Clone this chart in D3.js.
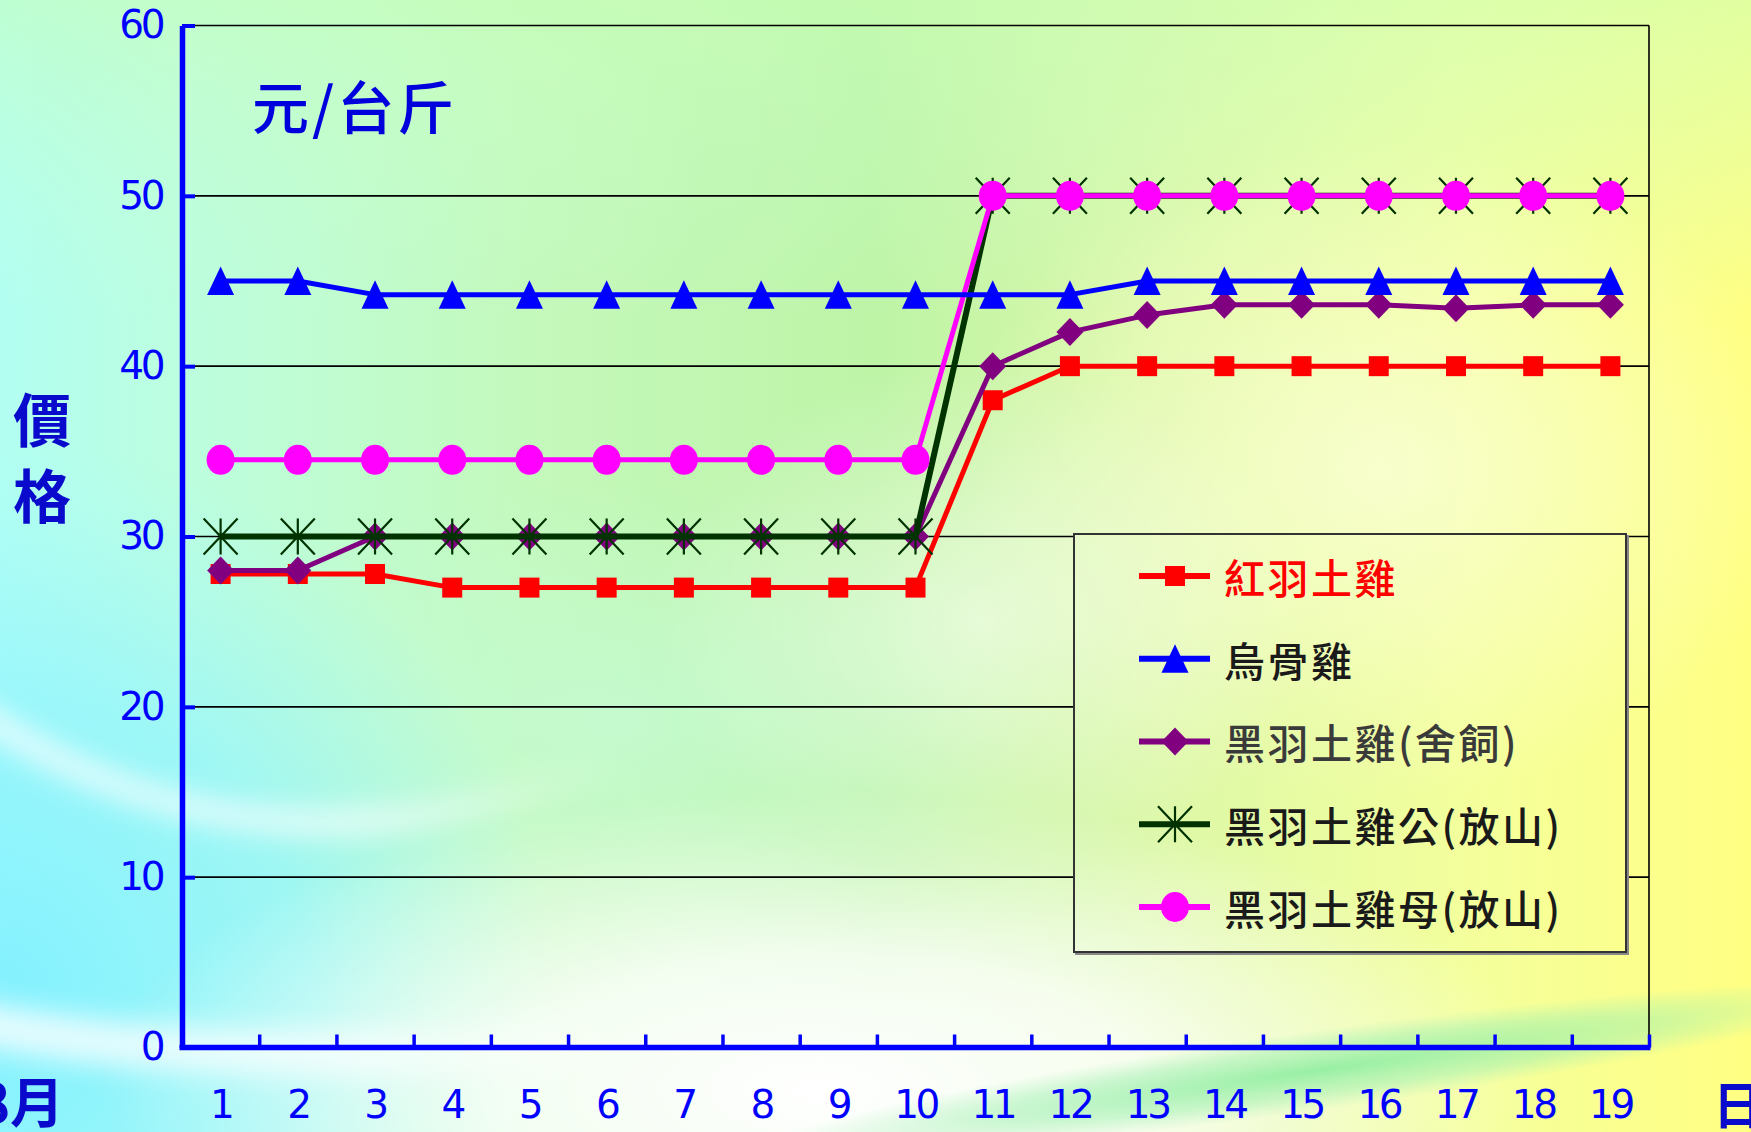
<!DOCTYPE html>
<html><head><meta charset="utf-8">
<script src="https://cdn.jsdelivr.net/npm/d3@7"></script>
<style>html,body{margin:0;padding:0;overflow:hidden;background:#fff}</style>
</head><body><svg id="c" width="1751" height="1132"></svg>
<script>
// ---------- data ----------
const days = [1,2,3,4,5,6,7,8,9,10,11,12,13,14,15,16,17,18,19];
const seriesNames = ["紅羽土雞","烏骨雞","黑羽土雞(舍飼)","黑羽土雞公(放山)","黑羽土雞母(放山)"];
const redVals     = [27.8,27.8,27.8,27,27,27,27,27,27,27,38,40,40,40,40,40,40,40,40];
const blueVals    = [45,45,44.2,44.2,44.2,44.2,44.2,44.2,44.2,44.2,44.2,44.2,45,45,45,45,45,45,45];
const purpleVals  = [28,28,30,30,30,30,30,30,30,30,40,42,43,43.6,43.6,43.6,43.4,43.6,43.6];
const greenVals   = [30,30,30,30,30,30,30,30,30,30,50,50,50,50,50,50,50,50,50];
const magentaVals = [34.5,34.5,34.5,34.5,34.5,34.5,34.5,34.5,34.5,34.5,50,50,50,50,50,50,50,50,50];
const yTicks = [0,10,20,30,40,50,60];
const unitLabel = "元/台斤";
const yTitle = ["價","格"];
const monthLabel = "8月";
const dayLabel = "日";

// ---------- layout ----------
const W = 1751, H = 1132;
const L = 182, R = 1649, T = 25.5, B = 1047.5;
const svg = d3.select("#c");
const defs = svg.append("defs");

// background gradients
const lg = defs.append("linearGradient").attr("id","bgH").attr("gradientUnits","userSpaceOnUse")
  .attr("x1",0).attr("y1",0).attr("x2",W).attr("y2",0);
[[0,"#b2fff2"],[0.1,"#bcfee0"],[0.3,"#c4f9bc"],[0.5,"#bdf4a6"],[0.66,"#dcf8a8"],[0.84,"#f4ff9c"],[1,"#ffff82"]]
  .forEach(([o,c])=>lg.append("stop").attr("offset",o).attr("stop-color",c));
const lv = defs.append("linearGradient").attr("id","bgV").attr("gradientUnits","userSpaceOnUse")
  .attr("x1",0).attr("y1",0).attr("x2",0).attr("y2",H);
[[0,"#c8ffb8",0.55],[0.28,"#c8ffd8",0],[1,"#ffffff",0]]
  .forEach(([o,c,a])=>lv.append("stop").attr("offset",o).attr("stop-color",c).attr("stop-opacity",a));
function radial(id, stops){
  const g = defs.append("radialGradient").attr("id",id);
  stops.forEach(([o,c,a])=>g.append("stop").attr("offset",o).attr("stop-color",c).attr("stop-opacity",a));
}
radial("cyanBL", [[0,"#80f0ff",0.95],[0.55,"#90f4ff",0.7],[1,"#a0f8ff",0]]);
radial("whiteGlow", [[0,"#ffffff",1],[0.45,"#ffffff",0.8],[1,"#ffffff",0]]);
radial("softGlow", [[0,"#ffffff",0.55],[1,"#ffffff",0]]);
radial("yelGlow", [[0,"#fbffd8",0.8],[1,"#fbffd8",0]]);
radial("greenStreak", [[0,"#8eeea0",0.9],[0.6,"#9ef0b0",0.5],[1,"#a8f0b8",0]]);
radial("mint", [[0,"#c4fbd8",0.7],[1,"#c4fbd8",0]]);
defs.append("filter").attr("id","blur").attr("filterUnits","userSpaceOnUse")
  .attr("x",-100).attr("y",-100).attr("width",W+200).attr("height",H+200)
  .append("feGaussianBlur").attr("stdDeviation",14);
const fade = defs.append("linearGradient").attr("id","arcFade").attr("gradientUnits","userSpaceOnUse")
  .attr("x1",0).attr("y1",0).attr("x2",620).attr("y2",0);
[[0,0.8],[0.6,0.7],[1,0]].forEach(([o,a])=>fade.append("stop").attr("offset",o).attr("stop-color","#fff").attr("stop-opacity",a));

const bg = defs.append("g").attr("id","bgLayer");
bg.append("rect").attr("width",W).attr("height",H).attr("fill","url(#bgH)");
bg.append("rect").attr("width",W).attr("height",H).attr("fill","url(#bgV)");
bg.append("ellipse").attr("cx",620).attr("cy",720).attr("rx",420).attr("ry",240).attr("fill","url(#mint)");
bg.append("ellipse").attr("cx",0).attr("cy",1000).attr("rx",560).attr("ry",560).attr("fill","url(#cyanBL)");
bg.append("ellipse").attr("cx",1380).attr("cy",470).attr("rx",420).attr("ry",330).attr("fill","url(#yelGlow)");
bg.append("ellipse").attr("cx",980).attr("cy",620).attr("rx",330).attr("ry",260).attr("fill","url(#softGlow)");
bg.append("ellipse").attr("cx",820).attr("cy",1090).attr("rx",720).attr("ry",300).attr("fill","url(#whiteGlow)");
bg.append("ellipse").attr("cx",1320).attr("cy",1070).attr("rx",560).attr("ry",40)
  .attr("transform","rotate(-8 1320 1070)").attr("fill","url(#greenStreak)");
bg.append("path").attr("d","M -40 700 Q 250 910 620 760").attr("fill","none")
  .attr("stroke","url(#arcFade)").attr("stroke-width",24).attr("filter","url(#blur)");
bg.append("path").attr("d","M -40 1020 Q 220 1075 620 1040").attr("fill","none")
  .attr("stroke","url(#arcFade)").attr("stroke-width",44).attr("filter","url(#blur)");

svg.append("use").attr("href","#bgLayer");

// ---------- scales ----------
const x = d3.scaleBand().domain(days).range([L,R]).padding(0);
const xc = d => x(d) + x.bandwidth()/2;
const y = d3.scaleLinear().domain([0,60]).range([B,T]);
const xEdge = d3.scaleLinear().domain([0,days.length]).range([L,R]);

// gridlines
svg.append("g").selectAll("line").data(yTicks.filter(v=>v>0)).join("line")
  .attr("x1",L).attr("x2",R).attr("y1",d=>y(d)).attr("y2",d=>y(d))
  .attr("stroke","#000").attr("stroke-width",1.6);
svg.append("line").attr("x1",R).attr("x2",R).attr("y1",T).attr("y2",B).attr("stroke","#000").attr("stroke-width",1.6);

// ---------- series ----------
const series = [
  {name:seriesNames[0], vals:redVals, color:"#ff0000", marker:"square", w:5},
  {name:seriesNames[2], vals:purpleVals, color:"#800080", marker:"diamond", w:5},
  {name:seriesNames[3], vals:greenVals, color:"#003300", marker:"star", w:6},
  {name:seriesNames[4], vals:magentaVals, color:"#ff00ff", marker:"circle", w:5},
  {name:seriesNames[1], vals:blueVals, color:"#0000ff", marker:"triangle", w:5}
];
const markerPath = {
  square: "M-10,-10H10V10H-10Z",
  diamond: "M0,-14L13.5,0L0,14L-13.5,0Z",
  triangle: "M0,-14.5L13.5,14L-13.5,14Z",
  circle: "M-14,0A14,15 0 1,0 14,0A14,15 0 1,0 -14,0Z",
  star: "M0,-18V18M-17,-18L17,18M17,-18L-17,18"
};
function drawMarker(g, type, color){
  const p = g.append("path").attr("d", markerPath[type]);
  if(type==="star") p.attr("fill","none").attr("stroke",color).attr("stroke-width",2.2);
  else p.attr("fill",color);
}
const line = d3.line().x((v,i)=>xc(days[i])).y(v=>y(v));
series.forEach(s=>{
  const g = svg.append("g");
  g.append("path").attr("d",line(s.vals)).attr("fill","none").attr("stroke",s.color)
    .attr("stroke-width",s.w).attr("stroke-linejoin","round");
  s.vals.forEach((v,i)=>{
    const m = g.append("g").attr("transform",`translate(${xc(days[i])},${y(v)})`);
    drawMarker(m, s.marker, s.color);
  });
});

// ---------- axes ----------
const numFont = "'DejaVu Sans',Arial,sans-serif";
const yAxis = d3.axisLeft(y).tickValues(yTicks).tickSizeInner(-13).tickSizeOuter(0).tickPadding(20);
const ya = svg.append("g").attr("transform",`translate(${L},0)`).call(yAxis);
ya.select(".domain").attr("stroke","#0000ff").attr("stroke-width",5.5);
ya.selectAll(".tick line").attr("stroke","#0000ff").attr("stroke-width",4);
ya.selectAll("text").attr("fill","#0000ff").attr("font-family",numFont)
  .attr("font-size",39).attr("letter-spacing",-3.5);

const xTickAxis = d3.axisBottom(xEdge).tickValues(d3.range(1,days.length+1)).tickSizeInner(-13).tickSizeOuter(0).tickFormat("");
const xt = svg.append("g").attr("transform",`translate(0,${B})`).call(xTickAxis);
xt.select(".domain").remove();
xt.selectAll(".tick line").attr("stroke","#0000ff").attr("stroke-width",3.5);
svg.append("line").attr("x1",L-2.5).attr("x2",R+1.5).attr("y1",B).attr("y2",B)
  .attr("stroke","#0000ff").attr("stroke-width",5.5);

const xAxis = d3.axisBottom(x).tickSize(0).tickPadding(43);
const xa = svg.append("g").attr("transform",`translate(0,${B})`).call(xAxis);
xa.select(".domain").remove();
xa.selectAll("text").attr("fill","#0000ff").attr("font-family",numFont)
  .attr("font-size",39).attr("letter-spacing",-3.5);

// ---------- titles ----------
const cjk = "'Noto Sans CJK TC','Noto Sans CJK SC',sans-serif";
svg.append("text").attr("x",252).attr("y",108).attr("dy","0.36em").text(unitLabel)
  .attr("font-family",cjk).attr("font-size",57).attr("font-weight",500).attr("letter-spacing",3)
  .attr("fill","#0000dd");
svg.selectAll(".yt").data(yTitle).join("text").attr("class","yt")
  .attr("x",42).attr("y",(d,i)=>421+i*76).attr("dy","0.36em").attr("text-anchor","middle")
  .text(d=>d).attr("font-family",cjk).attr("font-size",58).attr("font-weight",600).attr("fill","#0a0acc");
svg.append("text").attr("x",64).attr("y",1104).attr("dy","0.36em").attr("text-anchor","end").text(monthLabel)
  .attr("font-family",cjk).attr("font-size",54).attr("font-weight",700).attr("fill","#0a0acc");
svg.append("text").attr("x",1713).attr("y",1106).attr("dy","0.36em").text(dayLabel)
  .attr("font-family",cjk).attr("font-size",50).attr("font-weight",700).attr("fill","#0a0acc");

// ---------- legend ----------
const LX = 1074, LY = 534, LW = 552, LH = 418;
defs.append("clipPath").attr("id","legClip").append("rect").attr("x",LX).attr("y",LY).attr("width",LW).attr("height",LH);
svg.append("rect").attr("x",LX+2).attr("y",LY+2).attr("width",LW).attr("height",LH).attr("fill","none")
  .attr("stroke","#888").attr("stroke-width",2);
svg.append("use").attr("href","#bgLayer").attr("clip-path","url(#legClip)");
svg.append("rect").attr("x",LX).attr("y",LY).attr("width",LW).attr("height",LH).attr("fill","none")
  .attr("stroke","#333").attr("stroke-width",2);
const legendOrder = [
  {name:seriesNames[0], color:"#ff0000", marker:"square", text:"#ff0000"},
  {name:seriesNames[1], color:"#0000ff", marker:"triangle", text:"#1a1a1a"},
  {name:seriesNames[2], color:"#800080", marker:"diamond", text:"#3a3a3a"},
  {name:seriesNames[3], color:"#003300", marker:"star", text:"#1a1a1a"},
  {name:seriesNames[4], color:"#ff00ff", marker:"circle", text:"#1a1a1a"}
];
const rowY = d3.scalePoint().domain(d3.range(5)).range([576, 907]);
legendOrder.forEach((s,i)=>{
  const g = svg.append("g").attr("transform",`translate(0,${rowY(i)})`);
  g.append("line").attr("x1",1139).attr("x2",1210).attr("y1",0).attr("y2",0)
    .attr("stroke",s.color).attr("stroke-width",6);
  const m = g.append("g").attr("transform","translate(1175,0)");
  drawMarker(m, s.marker, s.color);
  g.append("text").attr("x",1224).attr("y",3).attr("dy","0.36em").text(s.name)
    .attr("font-family",cjk).attr("font-size",41).attr("font-weight",500).attr("letter-spacing",2.5).attr("fill",s.text);
});
</script></body></html>
